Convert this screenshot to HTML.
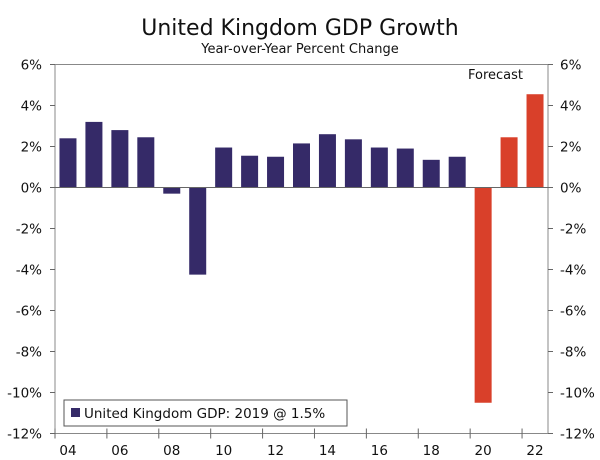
<!DOCTYPE html>
<html><head><meta charset="utf-8"><style>
body{margin:0;background:#fff;}
svg{display:block;font-family:"DejaVu Sans","Liberation Sans",sans-serif;}
</style></head><body>
<svg id="chart" width="600" height="460">
<text x="300" y="35" text-anchor="middle" font-size="22" fill="#111">United Kingdom GDP Growth</text>
<text x="300" y="53" text-anchor="middle" font-size="13" fill="#111">Year-over-Year Percent Change</text>
<g id="bars"></g>
<g id="axes"></g>
<text x="468" y="79" font-size="13" fill="#111">Forecast</text>
<g>
<rect x="64" y="400" width="283" height="26" fill="#fff" stroke="#555"/>
<rect x="71" y="408" width="9" height="9" fill="#352a68"/>
<text x="84" y="418" font-size="13.5" fill="#111">United Kingdom GDP: 2019 @ 1.5%</text>
</g>
</svg>
<script>
const years = ['04','05','06','07','08','09','10','11','12','13','14','15','16','17','18','19','20','21','22'];
const values = [2.4,3.2,2.8,2.45,-0.3,-4.25,1.95,1.55,1.5,2.15,2.6,2.35,1.95,1.9,1.35,1.5,-10.5,2.45,4.55];
const forecast = [false,false,false,false,false,false,false,false,false,false,false,false,false,false,false,false,true,true,true];
const yTicks = [6,4,2,0,-2,-4,-6,-8,-10,-12];
const xLabels = ['04','06','08','10','12','14','16','18','20','22'];
const L=55,R=548,T=64.5,B=433.5,yMin=-12,yMax=6;
const ns='http://www.w3.org/2000/svg';
function y(v){return T+(yMax-v)/(yMax-yMin)*(B-T);}
const band=(R-L)/years.length;
function xc(i){return L+band*(i+0.5);}
function mk(tag,attrs,parent){const e=document.createElementNS(ns,tag);for(const k in attrs)e.setAttribute(k,attrs[k]);parent.appendChild(e);return e;}
const bars=document.getElementById('bars'),axes=document.getElementById('axes');
values.forEach((v,i)=>{
 const r=mk('rect',{x:xc(i)-8.5,y:Math.min(y(v),y(0)),width:17,height:Math.abs(y(v)-y(0)),fill:forecast[i]?'#d9402a':'#352a68'},bars);
 
 
});
const f=mk('rect',{x:L,y:T,width:R-L,height:B-T,fill:'none',stroke:'#888','stroke-width':1},axes);


const z=mk('line',{x1:L,x2:R,y1:y(0),y2:y(0),stroke:'#666'},axes);


yTicks.forEach(v=>{
 mk('line',{x1:L-5,x2:L,y1:y(v),y2:y(v),stroke:'#666'},axes);
 mk('line',{x1:R,x2:R+5,y1:y(v),y2:y(v),stroke:'#666'},axes);
 const t1=mk('text',{x:L-13,y:y(v)+5,'text-anchor':'end','font-size':13.5,fill:'#111'},axes);t1.textContent=v+'%';
 
 
 const t2=mk('text',{x:R+12,y:y(v)+5,'text-anchor':'start','font-size':13.5,fill:'#111'},axes);t2.textContent=v+'%';
 
 
});
for(let i=0;i<=years.length;i+=2){mk('line',{x1:L+band*i,x2:L+band*i,y1:B-5,y2:B+5,stroke:'#666'},axes);}
xLabels.forEach(lab=>{
 const i=years.indexOf(lab);
 const t=mk('text',{x:xc(i),y:455,'text-anchor':'middle','font-size':13.5,fill:'#111'},axes);t.textContent=lab;
 
 
});
</script>
</body></html>
